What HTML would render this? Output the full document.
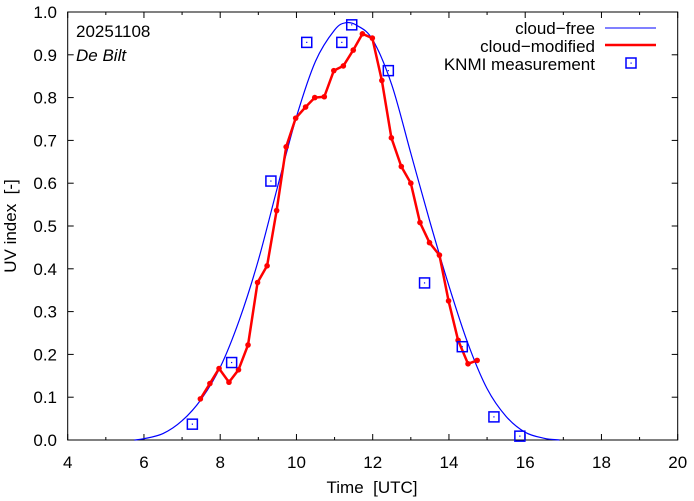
<!DOCTYPE html>
<html><head><meta charset="utf-8"><style>
body{margin:0;background:#fff}
svg{display:block;font-family:"Liberation Sans",sans-serif}
text{white-space:pre}
</style></head><body>
<svg id="chart" width="694" height="501">
<g id="grid"></g>
<g id="axes"></g>
<g id="series"></g>
<g>
<text x="76" y="37" font-size="17">20251108</text>
<text x="76" y="61" font-size="17" font-style="italic">De Bilt</text>
</g>
<g>
<text x="595" y="34" font-size="17" text-anchor="end">cloud−free</text>
<line x1="605" y1="28" x2="656" y2="28" stroke="#0000ff" stroke-width="1"/>
<text x="595" y="52" font-size="17" text-anchor="end">cloud−modified</text>
<line x1="605" y1="45" x2="656" y2="45" stroke="#ff0000" stroke-width="2.5"/>
<text x="595" y="70" font-size="17" text-anchor="end">KNMI measurement</text>
<rect x="626" y="58" width="10" height="10" fill="none" stroke="#0000ff" stroke-width="1.5"/>
<rect x="630.5" y="62.5" width="1.2" height="1.2" fill="#0000ff"/>
</g>
<text x="372" y="493" font-size="17" text-anchor="middle">Time  [UTC]</text>
<text transform="translate(16,226) rotate(-90)" font-size="17" text-anchor="middle">UV index  [-]</text>
</svg>
<script>
const xTicks=[4,6,8,10,12,14,16,18,20];
const yTicks=[0,0.1,0.2,0.3,0.4,0.5,0.6,0.7,0.8,0.9,1.0];
const freeTimes=[5.75,6,6.5,7,7.5,8,8.5,9,9.5,10,10.5,11,11.3,11.6,12,12.5,13,13.5,14,14.5,15,15.5,16,16.5,16.9];
const freeValues=[0,0.003,0.015,0.045,0.095,0.17,0.28,0.42,0.59,0.755,0.885,0.958,0.975,0.968,0.935,0.83,0.67,0.51,0.36,0.225,0.12,0.055,0.018,0.004,0];
const cloudTimes=[7.48,7.73,7.97,8.23,8.48,8.73,8.98,9.23,9.48,9.73,9.98,10.24,10.48,10.73,10.98,11.23,11.49,11.73,11.99,12.24,12.49,12.75,13.0,13.24,13.49,13.75,13.99,14.24,14.5,14.74];
const cloudValues=[0.096,0.132,0.167,0.135,0.164,0.222,0.368,0.407,0.536,0.685,0.752,0.778,0.80,0.802,0.863,0.874,0.911,0.949,0.939,0.840,0.706,0.639,0.60,0.508,0.461,0.432,0.325,0.233,0.178,0.186];
const measTimes=[7.27,8.30,9.33,10.27,11.19,11.45,12.41,13.36,14.35,15.18,15.86];
const measValues=[0.037,0.181,0.605,0.929,0.929,0.970,0.863,0.367,0.218,0.054,0.009];

const X0=67.7,X1=677.7,Y0=440,Y1=12;
const sx=t=>X0+(t-4)/16*(X1-X0);
const sy=v=>Y0-v*(Y0-Y1);
const NS='http://www.w3.org/2000/svg';
function mk(tag,attrs,parent){const e=document.createElementNS(NS,tag);for(const k in attrs)e.setAttribute(k,attrs[k]);parent.appendChild(e);return e;}
const axes=document.getElementById('axes'),series=document.getElementById('series');
const frame=mk('rect',{x:X0,y:Y1,width:X1-X0,height:Y0-Y1,fill:'none',stroke:'#000','stroke-width':1},axes);


xTicks.forEach(t=>{
  const x=sx(t);
  mk('line',{x1:x,y1:Y0,x2:x,y2:Y0-6,stroke:'#000'},axes);
  mk('line',{x1:x,y1:Y1,x2:x,y2:Y1+6,stroke:'#000'},axes);
  mk('line',{x1:sx(t+1),y1:Y0,x2:sx(t+1),y2:Y0-3,stroke:'#000'},axes);
  mk('line',{x1:sx(t+1),y1:Y1,x2:sx(t+1),y2:Y1+3,stroke:'#000'},axes);
  const l=mk('text',{x:x,y:468,'font-size':17,'text-anchor':'middle'},axes);
  l.textContent=t;
  
  
});
yTicks.forEach(v=>{
  const y=sy(v);
  mk('line',{x1:X0,y1:y,x2:X0+6,y2:y,stroke:'#000'},axes);
  mk('line',{x1:X1,y1:y,x2:X1-6,y2:y,stroke:'#000'},axes);
  const l=mk('text',{x:57,y:y+6,'font-size':17,'text-anchor':'end'},axes);
  l.textContent=v.toFixed(1);
  
  
});
const P=freeTimes.map((t,i)=>[sx(t),sy(freeValues[i])]);
let d='M'+P[0][0]+','+P[0][1];
for(let i=0;i<P.length-1;i++){
  const p0=P[Math.max(0,i-1)],p1=P[i],p2=P[i+1],p3=P[Math.min(P.length-1,i+2)];
  const c1=[p1[0]+(p2[0]-p0[0])/6,p1[1]+(p2[1]-p0[1])/6];
  const c2=[p2[0]-(p3[0]-p1[0])/6,p2[1]-(p3[1]-p1[1])/6];
  d+=' C'+c1+' '+c2+' '+p2;
}
const free=mk('path',{d:d,fill:'none',stroke:'#0000ff','stroke-width':1.2},series);


const pts=cloudTimes.map((t,i)=>sx(t)+','+sy(cloudValues[i])).join(' ');
const cl=mk('polyline',{points:pts,fill:'none',stroke:'#ff0000','stroke-width':2.5,'stroke-linejoin':'round'},series);


cloudTimes.forEach((t,i)=>{
  const c=mk('circle',{cx:sx(t),cy:sy(cloudValues[i]),r:2.8,fill:'#ff0000'},series);
  
  
});
measTimes.forEach((t,i)=>{
  const x=sx(t),y=sy(measValues[i]);
  const r=mk('rect',{x:x-5,y:y-5,width:10,height:10,fill:'none',stroke:'#0000ff','stroke-width':1.5},series);
  
  
  mk('rect',{x:x-0.6,y:y-0.6,width:1.2,height:1.2,fill:'#0000ff'},series);
});
</script>
</body></html>
